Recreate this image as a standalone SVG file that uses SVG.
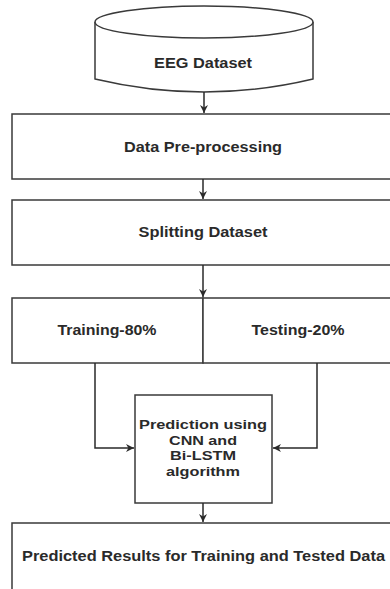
<svg xmlns="http://www.w3.org/2000/svg" width="390" height="589" viewBox="0 0 390 589">
<style>
.box{fill:#fff;stroke:#3a3a3a;stroke-width:1.5}
.t{font-family:"Liberation Sans",Arial,sans-serif;font-weight:bold;font-size:14px;fill:#2a2a2a;text-anchor:middle}
.s{font-size:13.5px}
.c{fill:none;stroke:#2a2a2a;stroke-width:1.5}
</style>
<defs>
<marker id="ah" viewBox="0 0 10 10" refX="10" refY="5" markerWidth="8" markerHeight="8" markerUnits="userSpaceOnUse" orient="auto">
<path d="M0,0 L10,5 L0,10 L3,5 z" fill="#2a2a2a"/>
</marker>
</defs>
<rect width="390" height="589" fill="#fff"/>
<g id="eeg">
<path class="box" d="M95,22 V79 Q204,105 313,79 V22"/>
<ellipse class="box" cx="204" cy="22" rx="109" ry="16"/>
<text class="t" x="203" y="68" textLength="98" lengthAdjust="spacingAndGlyphs">EEG Dataset</text>
</g>
<g id="preprocess">
<rect class="box" x="12" y="114" width="400" height="65"/>
<text class="t" x="203" y="152" textLength="158" lengthAdjust="spacingAndGlyphs">Data Pre-processing</text>
</g>
<g id="split">
<rect class="box" x="12" y="200" width="400" height="65"/>
<text class="t" x="203" y="237" textLength="129" lengthAdjust="spacingAndGlyphs">Splitting Dataset</text>
</g>
<g id="training">
<rect class="box" x="12" y="298" width="191" height="65"/>
<text class="t" x="107" y="335" textLength="99" lengthAdjust="spacingAndGlyphs">Training-80%</text>
</g>
<g id="testing">
<rect class="box" x="203" y="298" width="209" height="65"/>
<text class="t" x="298" y="335" textLength="93" lengthAdjust="spacingAndGlyphs">Testing-20%</text>
</g>
<g id="prediction">
<rect class="box" x="135" y="395" width="137" height="108"/>
<text class="t s" x="203" y="429" textLength="128" lengthAdjust="spacingAndGlyphs">Prediction using</text>
<text class="t s" x="203" y="444.5" textLength="68" lengthAdjust="spacingAndGlyphs">CNN and</text>
<text class="t s" x="203" y="460" textLength="66" lengthAdjust="spacingAndGlyphs">Bi-LSTM</text>
<text class="t s" x="203" y="475.5" textLength="74" lengthAdjust="spacingAndGlyphs">algorithm</text>
</g>
<g id="results">
<rect class="box" x="12" y="523" width="400" height="80"/>
<text class="t" x="203.5" y="561" textLength="363" lengthAdjust="spacingAndGlyphs">Predicted Results for Training and Tested Data</text>
</g>
<g id="connectors">
<path class="c" d="M204,92 V113" marker-end="url(#ah)"/>
<path class="c" d="M203,179 V199" marker-end="url(#ah)"/>
<path class="c" d="M203,265 V297" marker-end="url(#ah)"/>
<path class="c" d="M95,363 V448 H134" marker-end="url(#ah)"/>
<path class="c" d="M317,363 V448 H273" marker-end="url(#ah)"/>
<path class="c" d="M203,503 V522" marker-end="url(#ah)"/>
</g>
</svg>
